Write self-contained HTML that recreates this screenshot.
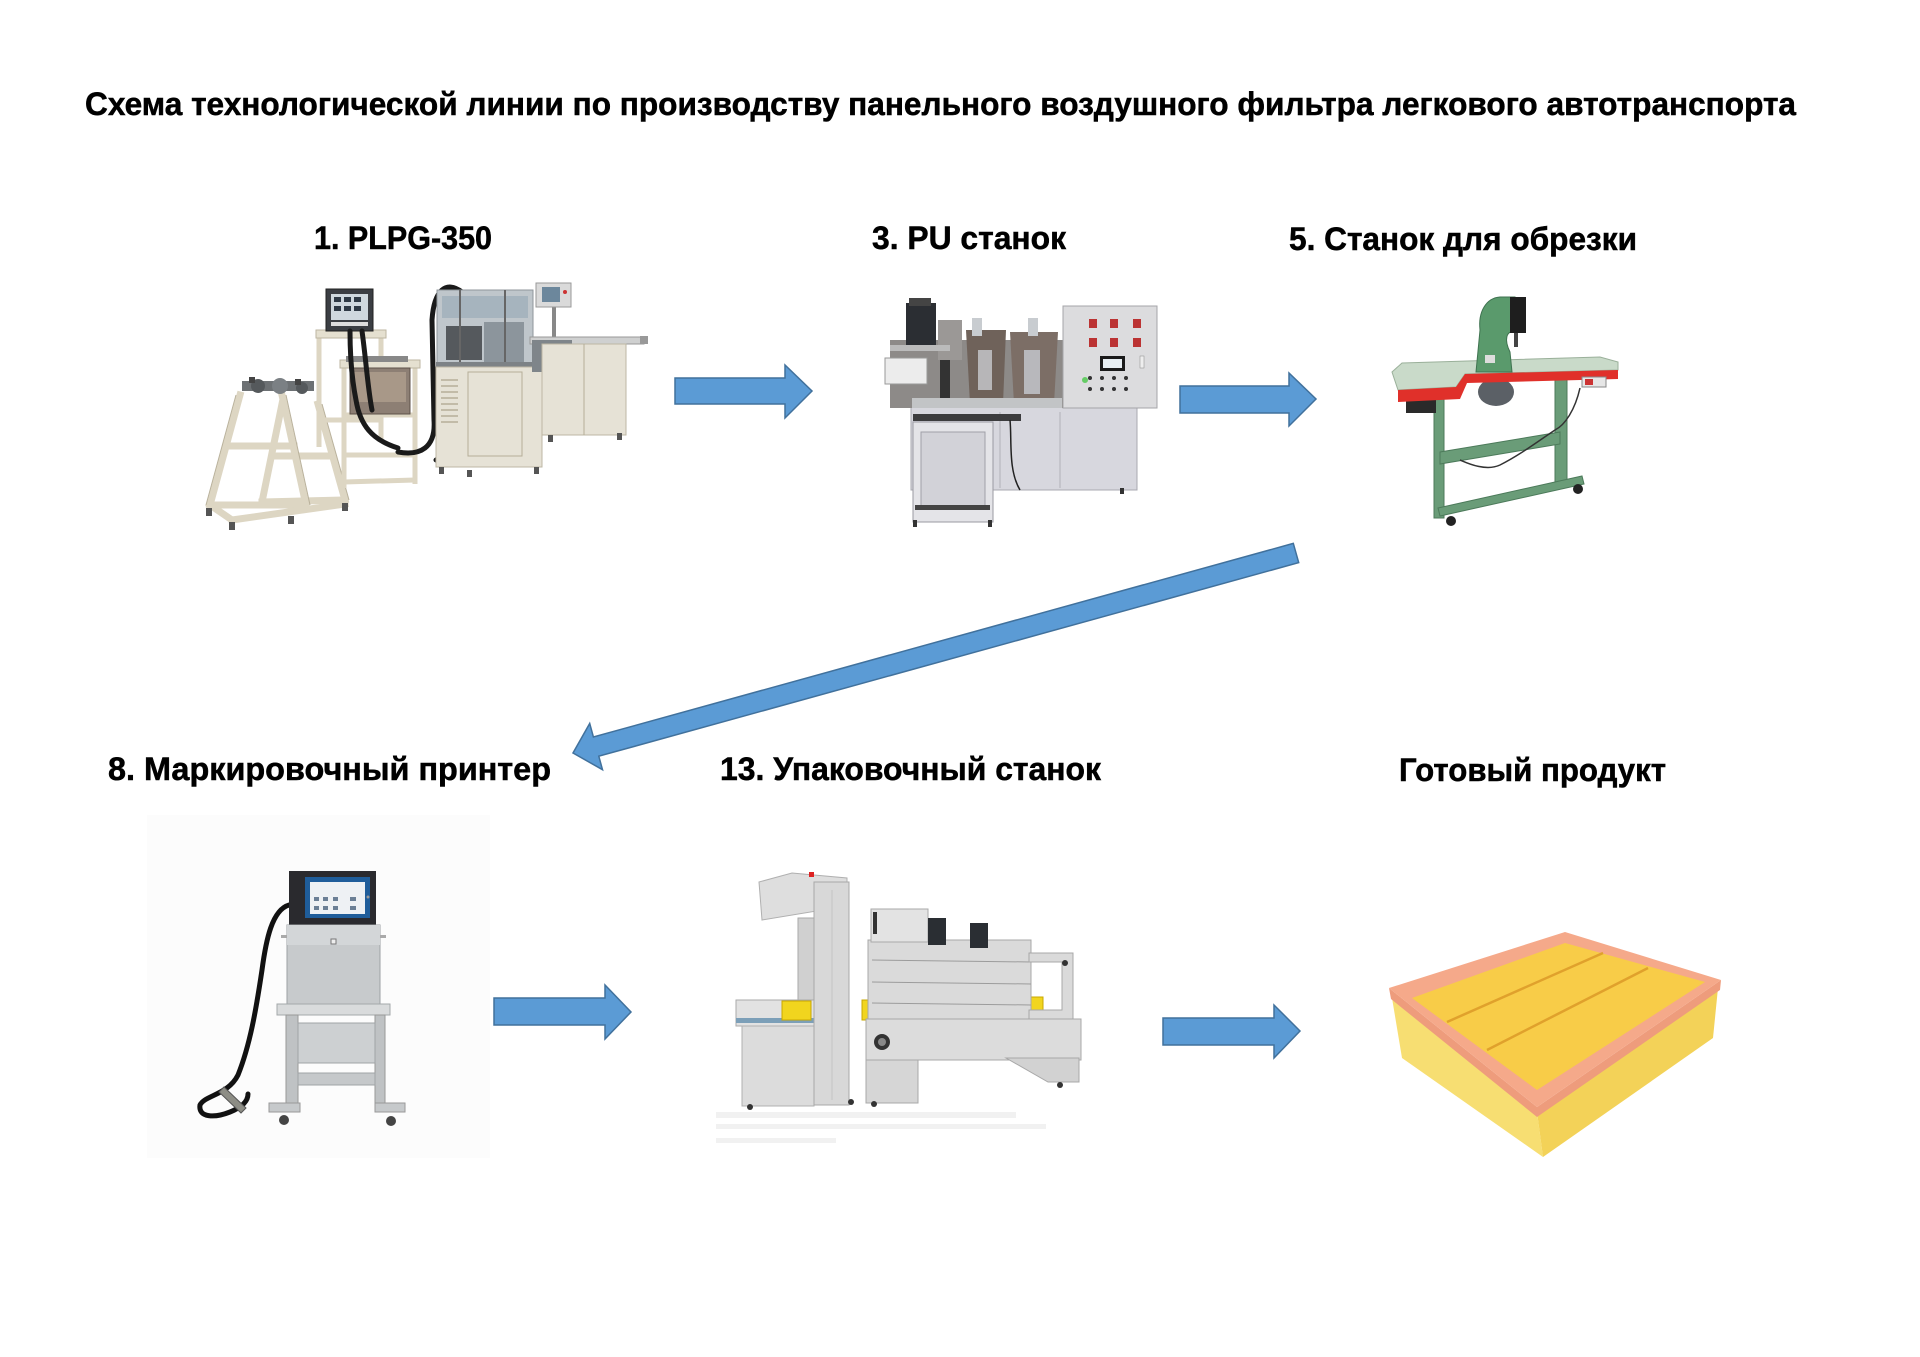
<!DOCTYPE html>
<html>
<head>
<meta charset="utf-8">
<style>
html,body{margin:0;padding:0;background:#fff;}
svg{display:block;}
text{font-family:"Liberation Sans","Noto Sans CJK SC",sans-serif;font-weight:bold;fill:#000;stroke:#000;stroke-width:0.5px;}
</style>
</head>
<body>
<svg width="1920" height="1357" viewBox="0 0 1920 1357" xmlns="http://www.w3.org/2000/svg">
<rect x="0" y="0" width="1920" height="1357" fill="#fff"/>

<!-- Title -->
<text x="85" y="115" font-size="32" textLength="1711" lengthAdjust="spacingAndGlyphs">Схема технологической линии по производству панельного воздушного фильтра легкового автотранспорта</text>

<!-- Labels -->
<text x="314" y="249" font-size="32" textLength="178" lengthAdjust="spacingAndGlyphs">1. PLPG-350</text>
<text x="872" y="249" font-size="32" textLength="194" lengthAdjust="spacingAndGlyphs">3. PU станок</text>
<text x="1289" y="250" font-size="32" textLength="348" lengthAdjust="spacingAndGlyphs">5. Станок для обрезки</text>
<text x="108" y="780" font-size="32" textLength="443" lengthAdjust="spacingAndGlyphs">8. Маркировочный принтер</text>
<text x="720" y="780" font-size="32" textLength="381" lengthAdjust="spacingAndGlyphs">13. Упаковочный станок</text>
<text x="1399" y="781" font-size="32" textLength="267" lengthAdjust="spacingAndGlyphs">Готовый продукт</text>

<!-- Arrows -->
<g fill="#5B9BD5" stroke="#41719C" stroke-width="1.5" stroke-linejoin="miter">
  <polygon points="675,378 785,378 785,365 812,391 785,418 785,404 675,404"/>
  <polygon points="1180,386 1289,386 1289,373 1316,399 1289,426 1289,413 1180,413"/>
  <polygon points="494,998 605,998 605,985 631,1012 605,1039 605,1025 494,1025"/>
  <polygon points="1163,1018 1274,1018 1274,1005 1300,1031 1274,1058 1274,1045 1163,1045"/>
  <polygon points="1293.3,543.4 593.4,737 589.7,723.5 573,753 602.5,769.7 598.8,756.2 1298.7,562.6"/>
</g>

<!-- ========== Image 1: PLPG-350 ========== -->
<g>
  <g stroke="#DDD6C3" stroke-width="7" fill="none" stroke-linecap="square">
    <line x1="240" y1="395" x2="210" y2="505"/>
    <line x1="282" y1="395" x2="306" y2="505"/>
    <line x1="226" y1="446" x2="294" y2="446"/>
    <line x1="282" y1="404" x2="262" y2="502"/>
    <line x1="318" y1="404" x2="345" y2="500"/>
    <line x1="272" y1="456" x2="332" y2="456"/>
    <line x1="210" y1="505" x2="306" y2="505"/>
    <line x1="262" y1="502" x2="345" y2="500"/>
    <line x1="232" y1="520" x2="345" y2="504"/>
    <line x1="210" y1="505" x2="232" y2="520"/>
  </g>
  <g stroke="#B9B19B" stroke-width="1" fill="none">
    <line x1="236" y1="395" x2="206" y2="505"/>
    <line x1="286" y1="395" x2="310" y2="505"/>
    <line x1="322" y1="404" x2="349" y2="500"/>
  </g>
  <g fill="#555">
    <rect x="206" y="508" width="6" height="8"/><rect x="229" y="522" width="6" height="8"/>
    <rect x="288" y="516" width="6" height="8"/><rect x="342" y="503" width="6" height="8"/>
  </g>
  <rect x="242" y="381" width="72" height="10" fill="#6d7174"/>
  <circle cx="258" cy="386" r="7" fill="#55595c"/>
  <circle cx="280" cy="386" r="8" fill="#7b8084"/>
  <circle cx="302" cy="388" r="6" fill="#55595c"/>
  <rect x="249" y="377" width="6" height="6" fill="#444"/>
  <rect x="295" y="379" width="6" height="6" fill="#444"/>

  <g stroke="#DDD6C3" stroke-width="5" fill="none">
    <line x1="319" y1="336" x2="319" y2="447"/>
    <line x1="381" y1="336" x2="381" y2="440"/>
    <line x1="319" y1="420" x2="381" y2="420"/>
  </g>
  <rect x="316" y="330" width="70" height="8" fill="#E5E0D0" stroke="#BDB6A2"/>
  <rect x="326" y="289" width="47" height="42" fill="#3b3e43" stroke="#222"/>
  <rect x="331" y="294" width="37" height="26" fill="#cfd8de"/>
  <g fill="#2f3a46">
    <rect x="334" y="297" width="7" height="5"/><rect x="344" y="297" width="7" height="5"/><rect x="354" y="297" width="7" height="5"/>
    <rect x="334" y="306" width="7" height="5"/><rect x="344" y="306" width="7" height="5"/><rect x="354" y="306" width="7" height="5"/>
  </g>
  <rect x="331" y="322" width="37" height="4" fill="#ddd"/>

  <g stroke="#DDD6C3" stroke-width="5" fill="none">
    <line x1="344" y1="366" x2="344" y2="488"/>
    <line x1="415" y1="366" x2="415" y2="484"/>
    <line x1="344" y1="415" x2="415" y2="415"/>
    <line x1="344" y1="455" x2="415" y2="455"/>
    <line x1="344" y1="482" x2="415" y2="480"/>
  </g>
  <rect x="340" y="360" width="80" height="8" fill="#E5E0D0" stroke="#BDB6A2"/>
  <rect x="350" y="368" width="60" height="46" fill="#8d7f74" stroke="#5d5148"/>
  <rect x="354" y="372" width="52" height="30" fill="#a89888"/>
  <rect x="346" y="356" width="62" height="6" fill="#888"/>

  <g stroke="#1a1a1a" stroke-width="5" fill="none" stroke-linecap="round">
    <path d="M350,331 C350,360 352,380 356,400 C360,425 372,440 398,448"/>
    <path d="M362,331 C366,360 368,390 372,410"/>
    <path d="M462,292 C446,280 434,290 432,320 L434,420 C436,448 420,456 398,452"/>
    <path d="M452,296 C442,300 440,320 441,350 L442,445 C443,455 440,458 436,460"/>
  </g>

  <rect x="437" y="290" width="96" height="77" fill="#bfc6cb" stroke="#8f969b"/>
  <rect x="442" y="296" width="86" height="22" fill="#a6b4be"/>
  <rect x="446" y="326" width="36" height="34" fill="#55595d"/>
  <rect x="484" y="322" width="40" height="40" fill="#8c959c"/>
  <line x1="460" y1="290" x2="460" y2="367" stroke="#666" stroke-width="2"/>
  <line x1="505" y1="290" x2="505" y2="367" stroke="#666" stroke-width="2"/>
  <rect x="436" y="362" width="106" height="6" fill="#7d8286"/>
  <rect x="436" y="367" width="106" height="100" fill="#E6E2D6" stroke="#BDB7A4"/>
  <g stroke="#B5AE98" stroke-width="1.5">
    <line x1="441" y1="380" x2="458" y2="380"/><line x1="441" y1="386" x2="458" y2="386"/>
    <line x1="441" y1="392" x2="458" y2="392"/><line x1="441" y1="398" x2="458" y2="398"/>
    <line x1="441" y1="404" x2="458" y2="404"/><line x1="441" y1="410" x2="458" y2="410"/>
    <line x1="441" y1="416" x2="458" y2="416"/><line x1="441" y1="422" x2="458" y2="422"/>
  </g>
  <rect x="468" y="372" width="54" height="84" fill="none" stroke="#B5AE98"/>
  <g fill="#555"><rect x="439" y="467" width="5" height="7"/><rect x="467" y="470" width="5" height="7"/><rect x="534" y="467" width="5" height="7"/></g>
  <rect x="552" y="305" width="4" height="34" fill="#888"/>
  <rect x="536" y="283" width="35" height="24" fill="#dadada" stroke="#999"/>
  <rect x="542" y="287" width="18" height="15" fill="#6c879c"/>
  <circle cx="565" cy="292" r="2" fill="#c33"/>
  <rect x="530" y="337" width="114" height="7" fill="#cfd0d0" stroke="#999"/>
  <rect x="532" y="340" width="40" height="32" fill="#7f858a"/>
  <rect x="542" y="344" width="84" height="91" fill="#E6E2D6" stroke="#BDB7A4"/>
  <line x1="584" y1="344" x2="584" y2="435" stroke="#B5AE98"/>
  <rect x="640" y="336" width="8" height="8" fill="#999"/>
  <g fill="#555"><rect x="548" y="435" width="5" height="7"/><rect x="617" y="433" width="5" height="7"/></g>
</g>

<!-- ========== Image 3: PU machine ========== -->
<g>
  <rect x="911" y="407" width="226" height="83" fill="#d7d7de" stroke="#a8a8b0"/>
  <line x1="1000" y1="412" x2="1000" y2="488" stroke="#b0b0b8"/>
  <line x1="1060" y1="412" x2="1060" y2="488" stroke="#b0b0b8"/>
  <rect x="913" y="414" width="108" height="7" fill="#3c3c3e"/>
  <rect x="913" y="422" width="80" height="100" fill="#e4e4e8" stroke="#9a9aa2"/>
  <rect x="921" y="432" width="64" height="74" fill="#d2d2d8" stroke="#a0a0a8"/>
  <rect x="915" y="505" width="75" height="5" fill="#444"/>
  <g fill="#333"><rect x="913" y="520" width="4" height="7"/><rect x="988" y="520" width="4" height="7"/><rect x="1120" y="488" width="4" height="6"/></g>
  <rect x="890" y="340" width="175" height="68" fill="#8d8a88"/>
  <rect x="906" y="303" width="30" height="44" fill="#2b2e33"/>
  <rect x="909" y="298" width="22" height="8" fill="#444"/>
  <rect x="938" y="320" width="24" height="40" fill="#9b9896"/>
  <path d="M966,330 L1006,330 L1003,404 L970,404 Z" fill="#6f625a"/>
  <rect x="972" y="318" width="10" height="18" fill="#c8ccd0"/>
  <path d="M1010,332 L1058,332 L1054,404 L1014,404 Z" fill="#7c6e66"/>
  <rect x="1028" y="318" width="10" height="18" fill="#c8ccd0"/>
  <rect x="978" y="350" width="14" height="40" fill="#b7b6b8"/>
  <rect x="1024" y="350" width="16" height="44" fill="#b8b8bc"/>
  <rect x="885" y="358" width="42" height="26" fill="#ececec" stroke="#999"/>
  <rect x="890" y="345" width="60" height="6" fill="#bbb"/>
  <rect x="940" y="360" width="10" height="48" fill="#333"/>
  <rect x="912" y="398" width="150" height="10" fill="#c2c4c6"/>
  <rect x="1063" y="306" width="94" height="102" fill="#dcdcde" stroke="#a5a5a8"/>
  <g fill="#b33">
    <rect x="1089" y="319" width="8" height="9"/><rect x="1110" y="319" width="8" height="9"/><rect x="1133" y="319" width="8" height="9"/>
    <rect x="1089" y="338" width="8" height="9"/><rect x="1110" y="338" width="8" height="9"/><rect x="1133" y="338" width="8" height="9"/>
  </g>
  <rect x="1100" y="356" width="25" height="15" fill="#1a1a1a"/>
  <rect x="1103" y="359" width="19" height="9" fill="#e7eef2"/>
  <rect x="1140" y="356" width="4" height="12" fill="#eee" stroke="#888" stroke-width=".5"/>
  <g fill="#333">
    <circle cx="1090" cy="378" r="2"/><circle cx="1102" cy="378" r="2"/><circle cx="1114" cy="378" r="2"/><circle cx="1126" cy="378" r="2"/>
    <circle cx="1090" cy="389" r="2"/><circle cx="1102" cy="389" r="2"/><circle cx="1114" cy="389" r="2"/><circle cx="1126" cy="389" r="2"/>
  </g>
  <circle cx="1085" cy="380" r="3" fill="#6c6"/>
  <path d="M1010,420 C1012,440 1008,470 1020,490" stroke="#222" stroke-width="1.5" fill="none"/>
</g>

<!-- ========== Image 5: Trimming machine ========== -->
<g>
  <g fill="#6a9c78" stroke="#4c7a5a" stroke-width="1">
    <rect x="1434" y="398" width="10" height="120"/>
    <rect x="1555" y="376" width="12" height="110"/>
    <polygon points="1440,452 1560,432 1560,444 1440,464"/>
    <polygon points="1438,508 1582,476 1584,484 1440,516"/>
  </g>
  <circle cx="1451" cy="521" r="5" fill="#222"/>
  <circle cx="1578" cy="489" r="5" fill="#222"/>
  <path d="M1580,388 C1575,410 1565,425 1555,430 C1540,440 1520,455 1500,465 C1485,472 1465,462 1460,460" stroke="#333" stroke-width="1.5" fill="none"/>
  <rect x="1406" y="398" width="30" height="15" fill="#2a2a2a"/>
  <ellipse cx="1496" cy="392" rx="18" ry="14" fill="#5b6066"/>
  <polygon points="1392,372 1402,363 1600,357 1618,362 1618,370 1465,374 1456,387 1398,390" fill="#c9dac9" stroke="#9ab09a"/>
  <polygon points="1398,390 1456,387 1465,374 1618,370 1618,379 1467,383 1460,399 1398,402" fill="#e0302a"/>
  <path d="M1476,372 L1480,330 C1478,312 1486,298 1500,297 L1515,297 L1515,332 C1506,330 1504,340 1510,352 L1512,372 Z" fill="#5a9a6c" stroke="#3f7350"/>
  <rect x="1510" y="297" width="16" height="36" fill="#1e1e1e"/>
  <rect x="1514" y="333" width="4" height="14" fill="#444"/>
  <rect x="1485" y="355" width="10" height="8" fill="#ddd"/>
  <rect x="1582" y="377" width="24" height="10" fill="#e6e6e6" stroke="#888"/>
  <rect x="1585" y="379" width="8" height="6" fill="#c33"/>
</g>

<!-- ========== Image 8: Marking printer ========== -->
<g>
  <rect x="147" y="815" width="343" height="343" fill="#fcfcfc"/>
  <path d="M289,905 C272,910 266,940 262,970 C256,1010 250,1045 238,1075 C228,1095 205,1095 200,1105 C198,1118 215,1118 230,1112 C240,1108 248,1102 248,1094" stroke="#111" stroke-width="5" fill="none" stroke-linecap="round"/>
  <polygon points="219,1092 224,1087 246,1108 241,1113" fill="#8d8d85" stroke="#555"/>
  <rect x="289" y="871" width="87" height="55" fill="#2a2a2e"/>
  <rect x="305" y="877" width="65" height="41" fill="#1f5d9a"/>
  <rect x="310" y="882" width="55" height="32" fill="#eef1f4"/>
  <g fill="#6b7f95">
    <rect x="314" y="897" width="5" height="4"/><rect x="323" y="897" width="5" height="4"/><rect x="333" y="897" width="5" height="4"/><rect x="350" y="897" width="6" height="4"/>
    <rect x="314" y="906" width="5" height="4"/><rect x="323" y="906" width="5" height="4"/><rect x="333" y="906" width="5" height="4"/><rect x="350" y="906" width="6" height="4"/>
  </g>
  <circle cx="368" cy="897" r="1.5" fill="#999"/>
  <rect x="287" y="925" width="93" height="79" fill="#c7cacc" stroke="#9da1a4"/>
  <rect x="287" y="925" width="93" height="20" fill="#d3d6d8"/>
  <rect x="331" y="939" width="5" height="5" fill="#eee" stroke="#777"/>
  <rect x="281" y="935" width="6" height="3" fill="#aaa"/>
  <rect x="380" y="935" width="6" height="3" fill="#aaa"/>
  <rect x="277" y="1004" width="113" height="11" fill="#d9dbdc" stroke="#a4a8aa"/>
  <rect x="286" y="1015" width="12" height="95" fill="#bfc2c4" stroke="#999"/>
  <rect x="375" y="1015" width="10" height="95" fill="#bfc2c4" stroke="#999"/>
  <rect x="298" y="1023" width="77" height="40" fill="#cdd0d2" stroke="#a0a4a6"/>
  <rect x="298" y="1073" width="77" height="12" fill="#c5c8ca" stroke="#a0a4a6"/>
  <rect x="269" y="1103" width="31" height="9" fill="#c6c9cb" stroke="#999"/>
  <rect x="375" y="1103" width="30" height="9" fill="#c6c9cb" stroke="#999"/>
  <circle cx="284" cy="1120" r="5" fill="#444"/>
  <circle cx="391" cy="1121" r="5" fill="#444"/>
</g>

<!-- ========== Image 13: Packing machine ========== -->
<g>
  <polygon points="759,882 792,873 847,878 847,906 762,920" fill="#dedede" stroke="#b0b0b0"/>
  <rect x="809" y="872" width="5" height="5" fill="#d22"/>
  <rect x="798" y="918" width="16" height="82" fill="#d0d0d0" stroke="#aaa"/>
  <rect x="736" y="1000" width="80" height="26" fill="#e2e2e2" stroke="#aaa"/>
  <rect x="736" y="1018" width="80" height="5" fill="#7c9fb8"/>
  <rect x="742" y="1026" width="72" height="80" fill="#dcdcdc" stroke="#b0b0b0"/>
  <rect x="782" y="1001" width="29" height="19" fill="#f1d51e" stroke="#c9a800"/>
  <rect x="862" y="1000" width="22" height="20" fill="#f1d51e" stroke="#c9a800"/>
  <rect x="1027" y="997" width="16" height="20" fill="#f1d51e" stroke="#c9a800"/>
  <rect x="814" y="882" width="35" height="223" fill="#d8d8d8" stroke="#a8a8a8"/>
  <line x1="832" y1="890" x2="832" y2="1100" stroke="#c4c4c4"/>
  <rect x="868" y="940" width="163" height="85" fill="#dadada" stroke="#a8a8a8"/>
  <line x1="872" y1="960" x2="1031" y2="962" stroke="#9c9c9c"/>
  <line x1="872" y1="982" x2="1031" y2="984" stroke="#9c9c9c"/>
  <line x1="872" y1="1003" x2="1031" y2="1005" stroke="#9c9c9c"/>
  <rect x="871" y="909" width="57" height="33" fill="#e3e3e3" stroke="#aaa"/>
  <rect x="873" y="912" width="4" height="22" fill="#333"/>
  <rect x="928" y="918" width="18" height="27" fill="#2a2e33"/>
  <rect x="970" y="923" width="18" height="25" fill="#2a2e33"/>
  <path d="M1029,953 L1073,953 L1073,1027 L1029,1027 L1029,1010 L1062,1010 L1062,962 L1029,962 Z" fill="#dadada" stroke="#a8a8a8"/>
  <circle cx="1065" cy="963" r="3" fill="#333"/>
  <rect x="866" y="1019" width="215" height="41" fill="#dcdcdc" stroke="#a8a8a8"/>
  <polygon points="866,1060 918,1060 918,1103 866,1103" fill="#d6d6d6" stroke="#a8a8a8"/>
  <polygon points="1006,1058 1079,1058 1079,1082 1048,1082" fill="#d2d2d2" stroke="#a8a8a8"/>
  <circle cx="882" cy="1042" r="8" fill="#333"/>
  <circle cx="882" cy="1042" r="4" fill="#888"/>
  <g fill="#333"><circle cx="851" cy="1102" r="3"/><circle cx="874" cy="1104" r="3"/><circle cx="1060" cy="1085" r="3"/><circle cx="750" cy="1107" r="3"/></g>
  <g fill="#f1f1f1">
    <rect x="716" y="1112" width="300" height="6"/>
    <rect x="716" y="1124" width="330" height="5"/>
    <rect x="716" y="1138" width="120" height="5"/>
  </g>
</g>

<!-- ========== Finished product: panel filter ========== -->
<g>
  <polygon points="1392,998 1537,1112 1543,1157 1402,1058" fill="#F7DE72"/>
  <polygon points="1537,1112 1718,988 1713,1038 1543,1157" fill="#F3D258"/>
  <polygon points="1389,988 1537,1107 1721,980 1720,990 1537,1117 1391,999" fill="#EE9C7C"/>
  <polygon points="1389,988 1565,932 1721,980 1537,1107" fill="#F5A98A"/>
  <polygon points="1412,998 1565,943 1705,982 1537,1090" fill="#F8CC48"/>
  <line x1="1447" y1="1022" x2="1603" y2="953" stroke="#E0A12C" stroke-width="2.5"/>
  <line x1="1487" y1="1050" x2="1648" y2="968" stroke="#E0A12C" stroke-width="2.5"/>
</g>

</svg>
</body>
</html>
